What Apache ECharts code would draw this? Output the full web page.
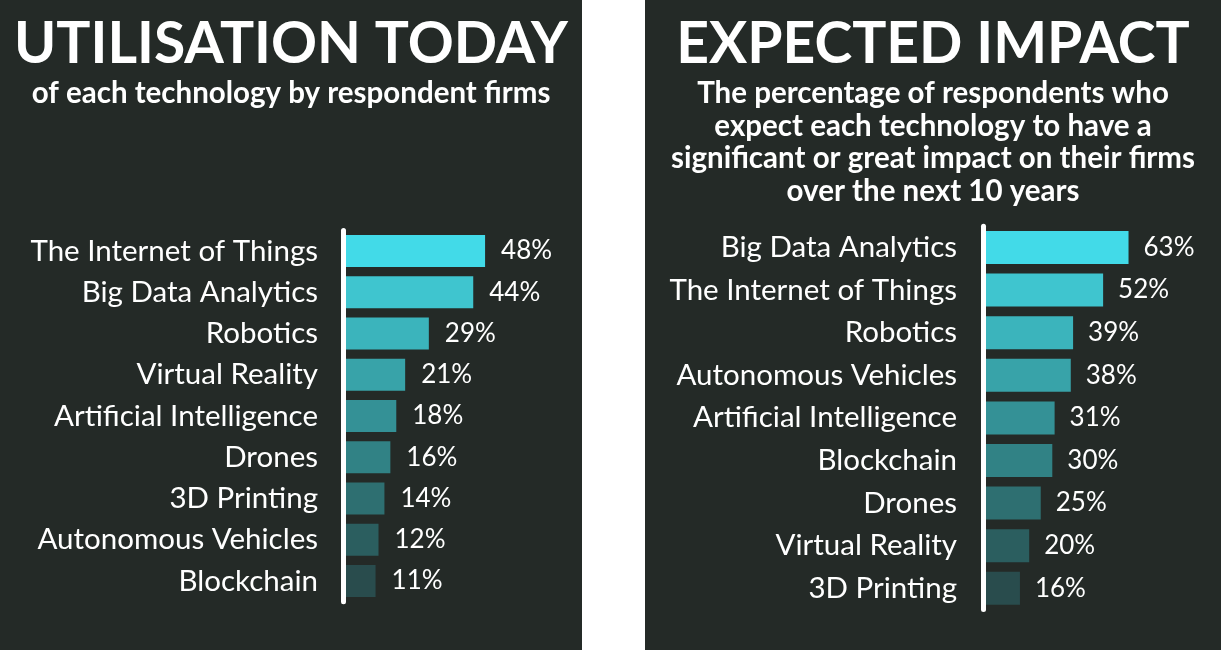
<!DOCTYPE html>
<html>
<head>
<meta charset="utf-8">
<script src="https://cdn.jsdelivr.net/npm/echarts@6/dist/echarts.min.js"></script>
<style>
html,body{margin:0;padding:0;background:#ffffff;width:1221px;height:650px;overflow:hidden;}
#c1{position:absolute;left:0;top:0;width:582px;height:650px;background:#242a27;}
#c2{position:absolute;left:645px;top:0;width:576px;height:650px;background:#242a27;}
</style>
</head>
<body>
<div id="c1"></div>
<div id="c2"></div>
<script>
const leftTitle = "UTILISATION TODAY";
const leftSubtitleLines = ["of each technology by respondent firms"];
const leftCategories = ["The Internet of Things","Big Data Analytics","Robotics","Virtual Reality","Artificial Intelligence","Drones","3D Printing","Autonomous Vehicles","Blockchain"];
const leftValues = [48,44,29,21,18,16,14,12,11];

const rightTitle = "EXPECTED IMPACT";
const rightSubtitleLines = ["The percentage of respondents who","expect each technology to have a","significant or great impact on their firms","over the next 10 years"];
const rightCategories = ["Big Data Analytics","The Internet of Things","Robotics","Autonomous Vehicles","Artificial Intelligence","Blockchain","Drones","Virtual Reality","3D Printing"];
const rightValues = [63,52,39,38,31,30,25,20,16];

const palette = ["#42dae8","#3fc5cf","#3bb4bc","#38a3a9","#349196","#318285","#2e6f71","#2b5e5f","#294c4d"];

const FONT = "Lato";

function makeOption(cfg){
  const titles = [
    {text: cfg.title, left: "center", top: 16, padding: 0,
     textStyle: {color:"#ffffff", fontFamily: FONT, fontWeight: "bold", fontSize: 57, lineHeight: 57}}
  ];
  cfg.subLines.forEach((line, i) => {
    titles.push({text: line, left: "center", top: cfg.subTop + i * cfg.subLH, padding: 0,
      textStyle: {color:"#ffffff", fontFamily: FONT, fontWeight: "bold", fontSize: cfg.subSize, lineHeight: cfg.subLH}});
  });
  return {
    backgroundColor: "#242a27",
    animation: false,
    title: titles,
    grid: {left: cfg.gridLeft, top: cfg.gridTop, height: cfg.gridHeight, width: cfg.gridWidth,
           containLabel: false, outerBoundsMode: "none"},
    xAxis: {type: "value", min: 0, max: cfg.xMax, show: false, splitLine: {show: false}},
    yAxis: {
      type: "category", inverse: true, data: cfg.categories, z: 10,
      axisLine: {show: true, lineStyle: {color: "#ffffff", width: 5}},
      axisTick: {show: false},
      axisLabel: {color: "#ffffff", fontFamily: FONT, fontSize: 29.5, margin: cfg.labelMargin}
    },
    series: [{
      type: "bar",
      data: cfg.values.map((v,i)=>({value: v, itemStyle: {color: palette[i]}})),
      barWidth: cfg.barWidth,
      label: {show: true, position: "right", distance: cfg.labelDist, formatter: "{c}%",
              color: "#ffffff", fontFamily: FONT, fontSize: 26}
    }]
  };
}

const c1 = echarts.init(document.getElementById("c1"), null, {renderer: "canvas"});
c1.setOption(makeOption({
  title: leftTitle, subLines: leftSubtitleLines, subTop: 78, subSize: 29.5, subLH: 31,
  categories: leftCategories, values: leftValues,
  gridLeft: 343, gridTop: 230.4, gridHeight: 371.25, gridWidth: 236.8, xMax: 80,
  barWidth: 32, labelMargin: 25, labelDist: 16
}));

const c2 = echarts.init(document.getElementById("c2"), null, {renderer: "canvas"});
c2.setOption(makeOption({
  title: rightTitle, subLines: rightSubtitleLines, subTop: 77, subSize: 29.5, subLH: 32.7,
  categories: rightCategories, values: rightValues,
  gridLeft: 338, gridTop: 226.2, gridHeight: 383.4, gridWidth: 231, xMax: 100,
  barWidth: 33, labelMargin: 26, labelDist: 15
}));
</script>
</body>
</html>
